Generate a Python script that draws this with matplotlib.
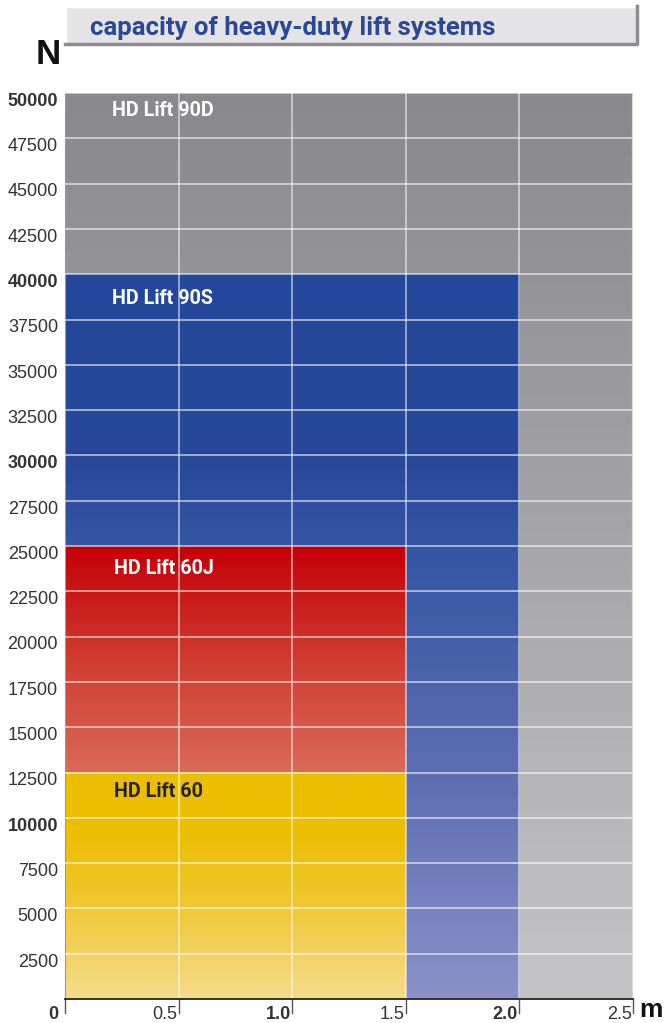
import numpy as np
import matplotlib.pyplot as plt
from matplotlib.colors import LinearSegmentedColormap
from matplotlib.patches import Rectangle
from matplotlib.lines import Line2D

# data: lift systems, max stroke (m) and load range (N)
systems = ["HD Lift 90D", "HD Lift 90S", "HD Lift 60J", "HD Lift 60"]
max_stroke = [2.5, 2.0, 1.5, 1.5]
load_low = [0, 0, 12500, 0]
load_high = [50000, 40000, 25000, 12500]

y_ticks = list(range(2500, 50001, 2500))
y_bold = [10000, 30000, 40000, 50000]
x_ticks = [0.5, 1.0, 1.5, 2.0, 2.5]
x_labels = ["0.5", "1.0", "1.5", "2.0", "2.5"]
x_bold = [1.0, 2.0]

# gradient colours, bottom -> top
grads = {
    "HD Lift 90D": [(0.0, "#c4c4c6"), (1.0, "#88888d")],
    "HD Lift 90S": [(0.0, "#8a91c8"), (0.3, "#5e6fb2"), (0.62, "#3556a3"), (0.75, "#28499b"), (1.0, "#23479a")],
    "HD Lift 60J": [(0.0, "#da6a58"), (0.5, "#d03c30"), (1.0, "#c50008")],
    "HD Lift 60": [(0.0, "#f5dc8c"), (0.45, "#efc62c"), (0.75, "#ecbe00"), (1.0, "#ecbe00")],
}
text_col = {"HD Lift 90D": "white", "HD Lift 90S": "white", "HD Lift 60J": "white", "HD Lift 60": "#222222"}
# label offset below the top edge (pixels)
label_drop = {"HD Lift 90D": 17, "HD Lift 90S": 24, "HD Lift 60J": 23, "HD Lift 60": 19}

narrow = ["Roboto", "DejaVu Sans"]
plain = ["Liberation Sans", "DejaVu Sans"]

fig = plt.figure(figsize=(6.65, 10.23), dpi=100)
W, H = 665, 1023
ax = fig.add_axes([65 / W, 1 - 999 / H, (633 - 65) / W, (999 - 93) / H])
ax.set_xlim(0, 2.5)
ax.set_ylim(0, 50000)

grad = np.linspace(0, 1, 256).reshape(-1, 1)
for name, s, lo, hi in zip(systems, max_stroke, load_low, load_high):
    cmap = LinearSegmentedColormap.from_list(name, grads[name])
    ax.imshow(grad, cmap=cmap, extent=[0, s, lo, hi], origin="lower",
              aspect="auto", interpolation="bilinear", zorder=1)
    ax.annotate(name, (0.205 if "90" in name else 0.215, hi), xytext=(0, -label_drop[name] * 0.72),
                textcoords="offset points", color=text_col[name],
                fontsize=14.2, fontweight="bold", family=narrow, va="center", ha="left", zorder=5)

# grid
for x in x_ticks[:-1]:
    ax.axvline(x, color="white", alpha=0.55, lw=1.3, zorder=3)
for y in y_ticks:
    ax.axhline(y, color="white", alpha=0.6, lw=1.3, zorder=3)
ax.axvline(2.5, color="#d8d8da", lw=1.5, zorder=3)

ax.set_xticks([])
ax.set_yticks([])
for sp in ["top", "right"]:
    ax.spines[sp].set_visible(False)
ax.spines["left"].set_color("#999999")
ax.spines["left"].set_linewidth(0.8)
ax.spines["bottom"].set_color("#333333")
ax.spines["bottom"].set_linewidth(1.4)
ax.spines["bottom"].set_zorder(6)

# tick marks under the axis
for x in [0] + x_ticks:
    ax.add_line(Line2D([x, x], [0, -750], color="#555555", lw=1.0, clip_on=False, zorder=6))

# y labels
for y in y_ticks:
    ax.annotate(str(y), (0, y), xycoords=("axes fraction", "data"), xytext=(-5, -6),
                textcoords="offset points", ha="right", va="center", fontsize=13,
                family=plain, color="#333333",
                fontweight="bold" if y in y_bold else "normal")
ax.annotate("0", (0, 0), xytext=(-5, -11), textcoords="offset points", ha="right",
            va="center", fontsize=13, family=plain, color="#333333", fontweight="bold")
# x labels
for x, lab in zip(x_ticks, x_labels):
    ax.annotate(lab, (x, 0), xytext=(-1, -11), textcoords="offset points", ha="right",
                va="center", fontsize=13, family=plain, color="#333333",
                fontweight="bold" if x in x_bold else "normal")

# axis units
fig.text(48 / W, 1 - 55 / H, "N", fontsize=25, fontweight="bold", family=plain,
         ha="center", va="center", color="#111111")
fig.text(651 / W, 1 - 1010 / H, "m", fontsize=19, fontweight="bold", family=plain,
         ha="center", va="center", color="#111111")

# title box with bevel
bx0, bx1, by0, by1 = 65 / W, 637 / W, 1 - 44 / H, 1 - 6 / H
fig.patches.append(Rectangle((bx0, by0), bx1 - bx0, by1 - by0, transform=fig.transFigure,
                             facecolor="#e4e4e6", edgecolor="#b0b0b2", lw=0.8, zorder=1))
fig.lines.append(Line2D([bx0, bx0, bx1], [by0, by1, by1], transform=fig.transFigure,
                        color="white", lw=2.5, zorder=2))
fig.lines.append(Line2D([bx0, bx1, bx1], [by0, by0, by1], transform=fig.transFigure,
                        color="#8e8e90", lw=2.5, zorder=2))
fig.text(90 / W, 1 - 27.5 / H, "capacity of heavy-duty lift systems", fontsize=18.5,
         fontweight="bold", family=narrow, color="#2b4896", ha="left", va="center", zorder=3)

fig.savefig("out.png", dpi=100)
